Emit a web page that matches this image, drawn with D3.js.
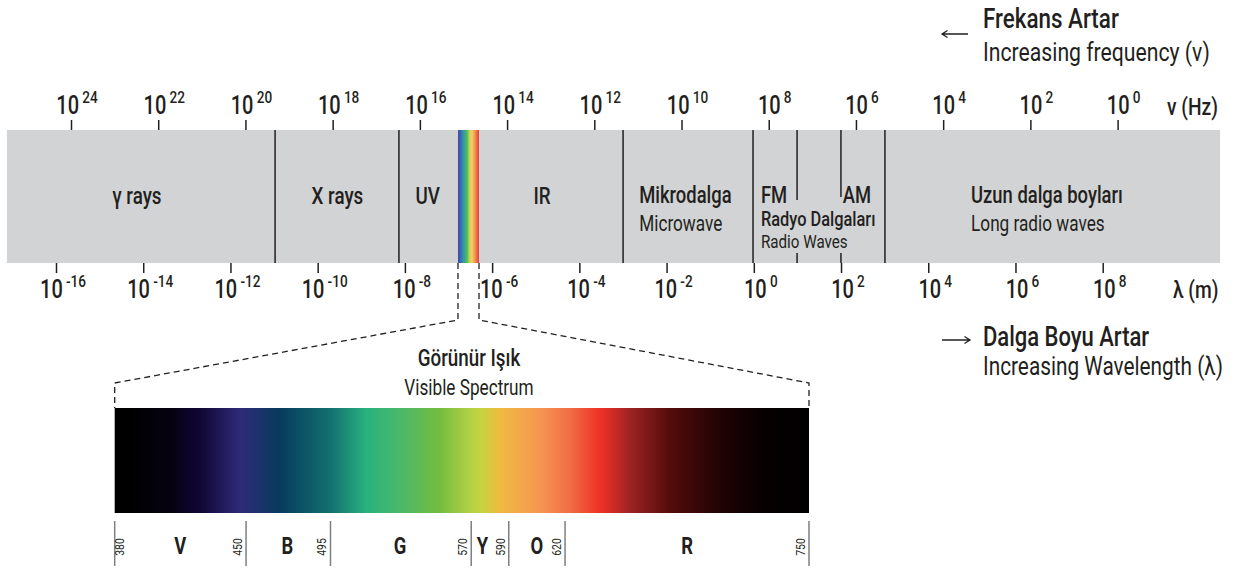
<!DOCTYPE html>
<html><head><meta charset="utf-8">
<script src="https://cdn.jsdelivr.net/npm/d3@7"></script>
<style>
html,body{margin:0;padding:0;background:#fff;}
svg text{font-family:Roboto,"Liberation Sans","DejaVu Sans",sans-serif;fill:#231f20;}
</style></head>
<body><svg id="c" width="1242" height="569"></svg>
<script>
// ---- data ----
const freqTickExps = [24,22,20,18,16,14,12,10,8,6,4,2,0];
const waveTickExps = [-16,-14,-12,-10,-8,-6,-4,-2,0,2,4,6,8];
const bandExtent = [25.47, -2.35];            // log10 frequency
const fullDividers = [19.32, 16.48, 11.34, 8.36, 5.335];
const radioDividers = [7.35, 6.344];          // FM | AM dividers
const visibleBand = [15.126, 14.644];
const regionNames = ["γ rays","X rays","UV","IR"];
const regionPos = [22.49, 17.89, 15.82, 13.20];
const twoLineNames = ["Mikrodalga","Uzun dalga boyları"];
const twoLineSubs = ["Microwave","Long radio waves"];
const twoLinePos = [10.97, 3.36];
const radioTitle = "Radyo Dalgaları", radioSub = "Radio Waves", radioPos = 8.18;
const fmLabel = "FM", amLabel = "AM", amPos = 6.30;
const stripColors = ["#4a4a9f","#3d62b2","#2f8fb0","#36a889","#63b95a","#c4d85c","#f2cf5e","#f4a050","#ef6d4b","#e8393a"];
const visStopsNm = [380,388,409,424,447,468,495,514,532,553,569,575,585,607,623,639,655,676,703,724,750];
const visStopColors = ["#000000","#000000","#05020f","#0f0530","#2e2a78","#073b5c","#137070","#28b27e","#4ab86a","#74bd40","#b0d045","#c3d540","#efbb3f","#f69552","#f06c45","#ee3126","#9c2323","#540b0b","#200304","#080001","#000000"];
const colorEdges = [380,450,495,570,590,620,750];
const colorLetters = ["V","B","G","Y","O","R"];
const colorLetterNm = [415,472,532,576,605,685];

// ---- scales ----
const fx = d3.scaleLog().domain([1e24,1]).range([71,1117.6]);
const fe = e => fx(Math.pow(10,e));
const wx = d3.scaleLog().domain([1e-16,1e8]).range([56,1102.7]);
const vx = d3.scaleLinear().domain([380,750]).range([114.7,809]);

const svg = d3.select("#c");
const ink = "#231f20";
const defs = svg.append("defs");
const CX = 0.8; // condensed look

function label(x,y,txt,size,weight,anchor,rot){
  return svg.append("text")
    .attr("transform",`translate(${x},${y})${rot?` rotate(${rot})`:""} scale(${CX},1)`)
    .attr("font-size",size).attr("font-weight",weight||400)
    .attr("text-anchor",anchor||"start").text(txt);
}

const bandTop = 130, bandBot = 263;
svg.append("rect").attr("x",fe(bandExtent[0])).attr("y",bandTop)
  .attr("width",fe(bandExtent[1])-fe(bandExtent[0])).attr("height",bandBot-bandTop).attr("fill","#d1d3d4");

// visible strip
const sg = defs.append("linearGradient").attr("id","strip");
stripColors.forEach((c,i)=>sg.append("stop").attr("offset",i/(stripColors.length-1)).attr("stop-color",c));
svg.append("rect").attr("x",fe(visibleBand[0])).attr("y",bandTop)
  .attr("width",fe(visibleBand[1])-fe(visibleBand[0])).attr("height",bandBot-bandTop).attr("fill","url(#strip)");

// dividers
svg.selectAll(".div").data(fullDividers).join("line")
  .attr("x1",d=>fe(d)).attr("x2",d=>fe(d)).attr("y1",bandTop).attr("y2",bandBot)
  .attr("stroke",ink).attr("stroke-width",1.5);
svg.selectAll(".rdiv").data(radioDividers).join("line")
  .attr("x1",d=>fe(d)).attr("x2",d=>fe(d)).attr("y1",bandTop).attr("y2",(d,i)=>i?197:200)
  .attr("stroke",ink).attr("stroke-width",1.5);
svg.selectAll(".rdiv2").data(radioDividers).join("line")
  .attr("x1",d=>fe(d)).attr("x2",d=>fe(d)).attr("y1",253).attr("y2",bandBot)
  .attr("stroke",ink).attr("stroke-width",1.5);

// axes
const topAxis = d3.axisTop(fx).tickValues(freqTickExps.map(e=>Math.pow(10,e))).tickSize(10).tickFormat("");
const gt = svg.append("g").attr("transform",`translate(0,${bandTop})`).call(topAxis);
gt.select(".domain").remove();
gt.selectAll(".tick line").attr("stroke",ink).attr("stroke-width",1.5);
const botAxis = d3.axisBottom(wx).tickValues(waveTickExps.map(e=>Math.pow(10,e))).tickSize(10).tickFormat("");
const gb = svg.append("g").attr("transform",`translate(0,${bandBot})`).call(botAxis);
gb.select(".domain").remove();
gb.selectAll(".tick line").attr("stroke",ink).attr("stroke-width",1.5);

function powLabel(x,y,exp){
  const t = label(x,y,null,25,500,"middle");
  t.append("tspan").text("10");
  t.append("tspan").attr("font-size",17).attr("dx",4).attr("dy",-11).text(String(exp));
}
freqTickExps.forEach(e=>powLabel(fe(e)+6,114,e));
waveTickExps.forEach(e=>powLabel(wx(Math.pow(10,e))+7,298,e));

label(1167,115,"ν (Hz)",24,500);
label(1173,298,"λ (m)",24,500);

// region labels
regionNames.forEach((n,i)=>label(fe(regionPos[i]),204,n,23.5,500,"middle"));
twoLineNames.forEach((n,i)=>{
  label(fe(twoLinePos[i]),203,n,23,500);
  label(fe(twoLinePos[i]),231,twoLineSubs[i],21.5,400);
});
label(fe(radioPos),203,fmLabel,23,500);
label(fe(amPos),203,amLabel,23,500);
label(fe(radioPos),226,radioTitle,20.5,500);
label(fe(radioPos),248,radioSub,19,400);

// direction notes
svg.append("path").attr("d","M968,34H942M947.5,30.5L942,34L947.5,37.5").attr("fill","none").attr("stroke",ink).attr("stroke-width",1.3);
label(983,28,"Frekans Artar",28,500);
label(983,61,"Increasing frequency (ν)",26.5,400);
svg.append("path").attr("d","M942,340H970M964.5,336.5L970,340L964.5,343.5").attr("fill","none").attr("stroke",ink).attr("stroke-width",1.3);
label(983,346,"Dalga Boyu Artar",27.5,500);
label(983,375,"Increasing Wavelength (λ)",26,400);

// dashed zoom lines
const vTop = 408, vBot = 513;
const lx0 = fe(visibleBand[0]), lx1 = fe(visibleBand[1]);
svg.append("path").attr("d",`M${lx0},${bandBot}V320L${vx(380)},383V${vTop}M${lx1},${bandBot}V320L${vx(750)},383V${vTop}`)
  .attr("fill","none").attr("stroke",ink).attr("stroke-width",1.3).attr("stroke-dasharray","6,4");

label(469,366,"Görünür Işık",23.5,500,"middle");
label(469,395,"Visible Spectrum",21.5,400,"middle");

// visible spectrum gradient
const vg = defs.append("linearGradient").attr("id","vis").attr("gradientUnits","userSpaceOnUse")
  .attr("x1",vx(380)).attr("x2",vx(750)).attr("y1",0).attr("y2",0);
visStopsNm.forEach((n,i)=>vg.append("stop").attr("offset",(n-380)/370).attr("stop-color",visStopColors[i]));
svg.append("rect").attr("x",vx(380)).attr("y",vTop).attr("width",vx(750)-vx(380)).attr("height",vBot-vTop).attr("fill","url(#vis)");

svg.selectAll(".ce").data(colorEdges).join("line")
  .attr("x1",d=>vx(d)).attr("x2",d=>vx(d)).attr("y1",521).attr("y2",566)
  .attr("stroke","#7f7f7f").attr("stroke-width",1.5);
colorEdges.forEach((d,i)=>label(vx(d)+(i===0?9:-4),547,d,13,400,"middle",-90));
colorLetters.forEach((l,i)=>label(vx(colorLetterNm[i]),554,l,23,700,"middle"));
</script></body></html>
